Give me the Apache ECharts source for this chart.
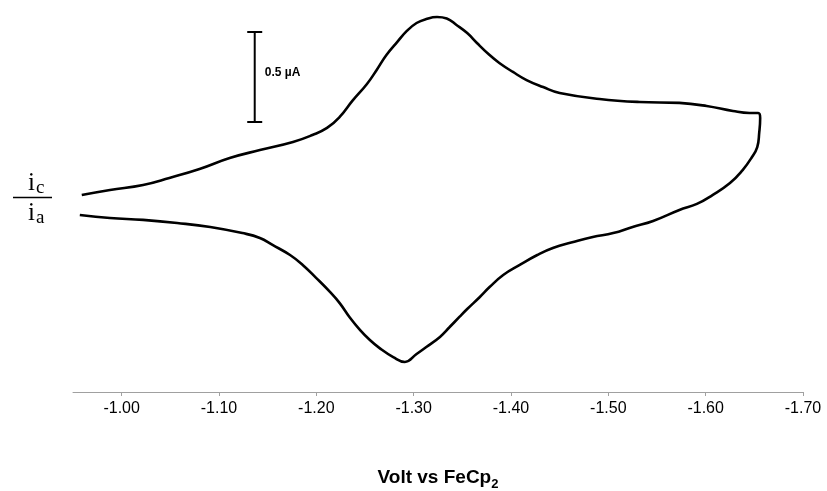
<!DOCTYPE html>
<html><head><meta charset="utf-8">
<script src="https://cdn.jsdelivr.net/npm/echarts@6/dist/echarts.min.js"></script>
<style>html,body{margin:0;padding:0;background:#fff}#c{width:827px;height:491px}</style>
</head><body><div id="c"></div>
<script>
// Forward (cathodic) scan: potential (V vs FeCp2) and current (µA, relative)
const forwardVolt = [-0.959,-0.988,-1.022,-1.049,-1.080,-1.111,-1.142,-1.176,-1.196,-1.211,-1.224,-1.237,-1.252,-1.262,-1.272,-1.283,-1.293,-1.303,-1.313,-1.324,-1.334,-1.344,-1.355,-1.365,-1.378,-1.388,-1.402,-1.416,-1.433,-1.450,-1.491,-1.532,-1.573,-1.601,-1.628,-1.645,-1.654,-1.656];
const forwardCurrent = [-0.006,0.022,0.050,0.089,0.139,0.200,0.244,0.289,0.328,0.367,0.428,0.517,0.611,0.689,0.772,0.844,0.906,0.950,0.972,0.983,0.975,0.939,0.894,0.839,0.772,0.728,0.678,0.633,0.594,0.561,0.528,0.511,0.506,0.489,0.461,0.450,0.450,0.422];
// Reverse (anodic) scan
const reverseVolt = [-1.655,-1.653,-1.647,-1.638,-1.625,-1.607,-1.591,-1.573,-1.546,-1.525,-1.505,-1.484,-1.464,-1.443,-1.427,-1.409,-1.392,-1.378,-1.368,-1.355,-1.347,-1.337,-1.327,-1.313,-1.303,-1.291,-1.279,-1.265,-1.255,-1.245,-1.234,-1.224,-1.214,-1.200,-1.186,-1.173,-1.155,-1.142,-1.124,-1.091,-1.057,-1.022,-0.988,-0.957];
const reverseCurrent = [0.339,0.261,0.200,0.133,0.061,-0.006,-0.055,-0.089,-0.150,-0.183,-0.217,-0.239,-0.267,-0.300,-0.339,-0.394,-0.450,-0.517,-0.572,-0.639,-0.683,-0.739,-0.794,-0.850,-0.889,-0.933,-0.906,-0.856,-0.811,-0.756,-0.683,-0.606,-0.544,-0.467,-0.394,-0.339,-0.283,-0.244,-0.217,-0.183,-0.161,-0.144,-0.133,-0.117];
const tickValues = [-1.00,-1.10,-1.20,-1.30,-1.40,-1.50,-1.60,-1.70];
const scaleBarVolt = -1.1367;
const scaleBarCapHalf = 0.0077;
const scaleBarCurrent = [0.4, 0.9];
const scaleBarLabel = '0.5 \u00b5A';
const axisTitle = 'Volt vs FeCp';
const axisTitleSub = '2';

const cv = [];
forwardVolt.forEach((v,i)=>cv.push([v, forwardCurrent[i]]));
reverseVolt.forEach((v,i)=>cv.push([v, reverseCurrent[i]]));

const barStyle = {color:'#000', width:2};
const chart = echarts.init(document.getElementById('c'), null, {renderer:'canvas'});
chart.setOption({
  animation:false,
  backgroundColor:'#fff',
  grid:{left:73, right:24, top:14, bottom:99, outerBoundsMode:'none', containLabel:false},
  xAxis:{
    type:'value', inverse:true, min:-1.70, max:-0.95, interval:0.1,
    splitLine:{show:false},
    axisLine:{onZero:false, lineStyle:{color:'#a0a0a0', width:1}},
    axisTick:{customValues:tickValues, length:4, lineStyle:{color:'#a0a0a0'}},
    axisLabel:{customValues:tickValues, formatter:v=>v.toFixed(2), fontSize:16, color:'#000', margin:9, fontFamily:'Liberation Sans, Arial'},
    name:'{a|'+axisTitle+'}{b|'+axisTitleSub+'}', nameLocation:'middle', nameGap:75,
    nameTextStyle:{rich:{
      a:{fontSize:19, fontWeight:'bold', fontFamily:'Liberation Sans, Arial', color:'#000', verticalAlign:'bottom', lineHeight:20},
      b:{fontSize:13, fontWeight:'bold', fontFamily:'Liberation Sans, Arial', color:'#000', verticalAlign:'bottom', lineHeight:20, padding:[0,0,-4,0]}
    }}
  },
  yAxis:{type:'value', min:-1.1, max:1.0, show:false},
  series:[
    {type:'line', data:cv, showSymbol:false, symbol:'none', smooth:0.45, lineStyle:{color:'#000', width:2.6}},
    {type:'line', data:[[scaleBarVolt, scaleBarCurrent[0]],[scaleBarVolt, scaleBarCurrent[1]]], symbol:'none', lineStyle:barStyle},
    {type:'line', data:[[scaleBarVolt-scaleBarCapHalf, scaleBarCurrent[0]],[scaleBarVolt+scaleBarCapHalf, scaleBarCurrent[0]]], symbol:'none', lineStyle:barStyle},
    {type:'line', data:[[scaleBarVolt-scaleBarCapHalf, scaleBarCurrent[1]],[scaleBarVolt+scaleBarCapHalf, scaleBarCurrent[1]]], symbol:'none', lineStyle:barStyle,
     markPoint:{symbol:'circle', symbolSize:0, data:[{coord:[scaleBarVolt, (scaleBarCurrent[0]+scaleBarCurrent[1])/2]}],
       label:{show:true, formatter:scaleBarLabel, position:'right', distance:10, offset:[0,-4], fontSize:12, fontWeight:'bold', color:'#000', fontFamily:'Liberation Sans, Arial'}}}
  ],
  graphic:[
    {type:'text', left:28, top:171, style:{text:'i', font:'25px "Liberation Serif", "Times New Roman", serif', fill:'#000'}},
    {type:'text', left:36, top:179, style:{text:'c', font:'19px "Liberation Serif", "Times New Roman", serif', fill:'#000'}},
    {type:'line', shape:{x1:13, y1:197.5, x2:52, y2:197.5}, style:{stroke:'#000', lineWidth:1.5}},
    {type:'text', left:28, top:201, style:{text:'i', font:'25px "Liberation Serif", "Times New Roman", serif', fill:'#000'}},
    {type:'text', left:36, top:209, style:{text:'a', font:'19px "Liberation Serif", "Times New Roman", serif', fill:'#000'}}
  ]
});
</script></body></html>
